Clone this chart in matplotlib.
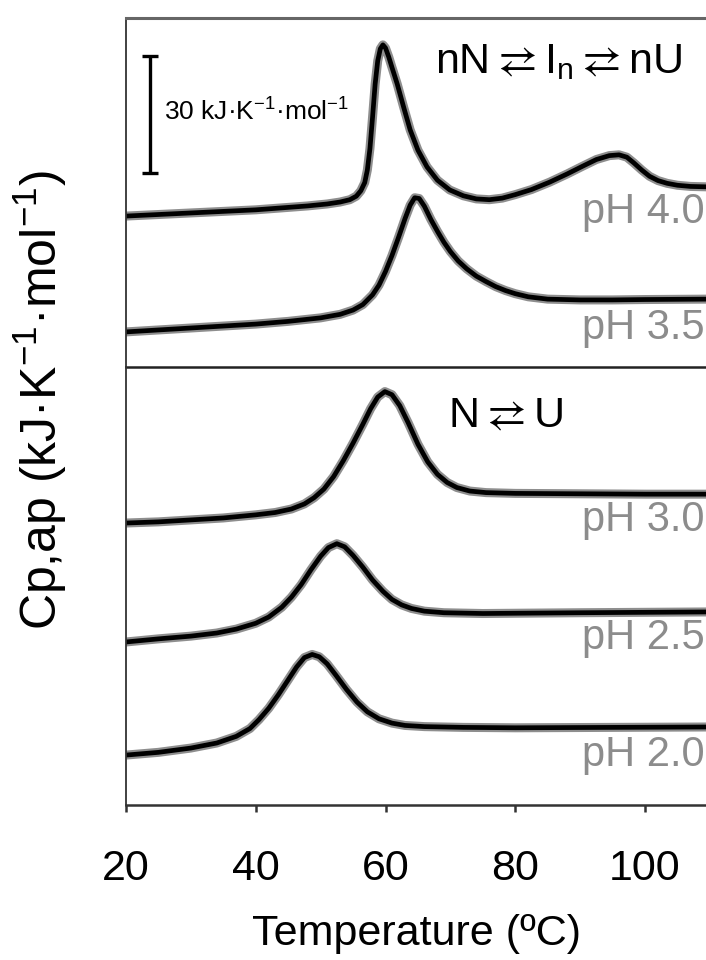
import matplotlib
matplotlib.use("Agg")
import matplotlib.pyplot as plt

plt.rcParams['font.family'] = ['Liberation Sans', 'DejaVu Sans']
plt.rcParams['mathtext.fontset'] = 'custom'
plt.rcParams['mathtext.rm'] = 'Liberation Sans'
plt.rcParams['mathtext.it'] = 'Liberation Sans:italic'
plt.rcParams['mathtext.bf'] = 'Liberation Sans:bold'
plt.rcParams['mathtext.fallback'] = 'stixsans'

# Cp,ap curves (kJ/K/mol), already stacked with their offsets
# top panel: nN <-> In <-> nU
T_40 = [20, 25, 30, 35, 40, 44, 48, 51, 53, 54.5, 55.5, 56.2, 56.8, 57.2, 57.6, 58, 58.4,
        58.8, 59.2, 59.6, 60.0, 60.5, 61, 61.8, 62.8, 63.8, 65, 66.4, 68, 69.9, 72, 74, 76,
        78, 80, 82.5, 85.3, 88, 90.4, 92.5, 94.5, 96, 97.2, 98.3, 99.5, 100.7, 102, 103.4,
        105, 107, 109.4]
cp_40 = [38.7, 39.1, 39.5, 39.9, 40.3, 40.8, 41.3, 41.8, 42.3, 42.9, 43.8, 45.2, 47.3, 50.5,
         56.0, 64.0, 72.5, 78.5, 81.6, 82.6, 81.8, 79.5, 76.8, 72.6, 66.6, 60.8, 55.6, 51.3,
         47.9, 45.4, 43.9, 43.1, 42.9, 43.3, 44.2, 45.5, 47.4, 49.5, 51.5, 53.2, 54.2, 54.4,
         53.8, 52.3, 50.5, 48.9, 47.8, 47.1, 46.6, 46.3, 46.2]

T_35 = [20, 25, 30, 35, 40, 45, 50, 53, 55, 56.5, 58, 59, 60, 61, 62, 63, 63.8, 64.5, 65.2,
        66, 67, 68, 69, 70, 71.2, 72.5, 74, 75.5, 77, 78.5, 80, 82, 85, 90, 95, 100, 109.4]
cp_35 = [9.0, 9.5, 10.0, 10.5, 11.0, 11.7, 12.6, 13.5, 14.6, 16.0, 18.5, 21.0, 24.5, 28.6,
         33.2, 38.0, 41.5, 43.4, 43.2, 41.2, 37.8, 34.8, 32.0, 29.6, 27.2, 25.2, 23.3, 21.9,
         20.6, 19.6, 18.8, 18.0, 17.4, 17.2, 17.2, 17.3, 17.4]

# bottom panel: N <-> U
T_30 = [20, 25, 30, 35, 40, 43, 45.5, 47.5, 49, 50.5, 52, 53.5, 55, 56.5, 57.7, 58.8, 59.9,
        61, 62.2, 63.5, 65, 66.5, 68, 69.5, 71, 73, 75.5, 80, 90, 100, 109.4]
cp_30 = [72.3, 72.6, 73.1, 73.6, 74.4, 75.0, 75.9, 77.2, 78.8, 81.0, 84.2, 88.3, 92.8, 97.6,
         101.6, 104.6, 106.0, 105.2, 102.4, 98.0, 92.5, 88.0, 84.8, 82.7, 81.4, 80.5, 80.1,
         79.9, 79.8, 79.7, 79.7]

T_25 = [20, 25, 30, 34, 37, 40, 42, 44, 45.5, 47, 48.5, 50, 51.2, 52.5, 53.7, 55, 56.5, 58,
        59.6, 61, 62.5, 64, 66, 69, 75, 90, 109.4]
cp_25 = [41.8, 42.6, 43.3, 44.1, 45.1, 46.6, 48.2, 50.7, 53.3, 56.5, 60.3, 63.8, 66.0, 67.0,
         66.2, 64.0, 61.0, 57.7, 54.8, 52.7, 51.3, 50.4, 49.7, 49.3, 49.1, 49.3, 49.5]

T_20 = [20, 25, 30, 34, 37, 39.1, 40.5, 42, 43.5, 45, 46.3, 47.5, 48.7, 49.8, 51, 52.3, 54,
        55.6, 57.2, 59, 61, 63, 66, 72, 80, 95, 109.4]
cp_20 = [12.8, 13.5, 14.6, 15.9, 17.6, 19.6, 21.9, 24.8, 28.3, 32.1, 35.4, 37.8, 38.6, 38.0,
         36.2, 33.4, 29.6, 26.4, 23.9, 22.1, 21.0, 20.4, 20.1, 19.9, 19.8, 19.9, 20.0]

top_curves = [(T_40, cp_40, 'pH 4.0', 39.7), (T_35, cp_35, 'pH 3.5', 10.0)]
bot_curves = [(T_30, cp_30, 'pH 3.0', 73.1), (T_25, cp_25, 'pH 2.5', 42.8),
              (T_20, cp_20, 'pH 2.0', 12.8)]
xticks = [20, 40, 60, 80, 100]

fig = plt.figure(figsize=(7.06, 9.6), dpi=100)
ax1 = fig.add_axes([126/706, 1-367/960, 1-126/706, 349/960])
ax2 = fig.add_axes([126/706, 1-805/960, 1-126/706, 438/960], sharex=ax1)
ax2.patch.set_visible(False)

for ax, curves in [(ax1, top_curves), (ax2, bot_curves)]:
    for T, cp, lab, ylab in curves:
        ax.plot(T, cp, color='#8e8e8e', lw=6.5, solid_joinstyle='round', solid_capstyle='round')
        ax.plot(T, cp, color='black', lw=3.4, solid_joinstyle='round')
        ax.text(0.997, ylab, lab, color='#8c8c8c', fontsize=30, va='center', ha='right',
                transform=ax.get_yaxis_transform())
    ax.spines['right'].set_visible(False)
    ax.set_yticks([])
    ax.spines['left'].set_color('#333333')
    ax.spines['left'].set_linewidth(1.3)

ax1.set_xlim(20, 109.4)
ax1.set_ylim(0, 349/3.9)
ax2.set_ylim(0, 438/3.9)

ax1.spines['top'].set_color('#666666')
ax1.spines['top'].set_linewidth(2.2)
ax1.spines['bottom'].set_color('#222222')
ax1.spines['bottom'].set_linewidth(1.8)
ax2.spines['top'].set_visible(False)
ax2.spines['bottom'].set_color('#333333')
ax2.spines['bottom'].set_linewidth(1.8)
ax1.tick_params(axis='x', bottom=False, labelbottom=False)

ax2.set_xticks(xticks)
ax2.tick_params(axis='x', direction='out', length=5, width=1.8, color='#333333',
                labelsize=31, pad=27)
ax2.set_xlabel('Temperature (ºC)', fontsize=31, labelpad=18)

# scale bar
ax1.errorbar([23.7], [64.7], yerr=[15], color='black', lw=2.4, capsize=6, capthick=2.4)
ax1.text(25.8, 65.5, r'30 kJ·K$^{\mathregular{-1}}$·mol$^{\mathregular{-1}}$', fontsize=19,
         va='center', ha='left')

ax1.text(67.6, 75.4, r'nN$\rightleftarrows$I$_{\mathregular{n}}$$\rightleftarrows$nU',
         fontsize=31, va='baseline', ha='left')
ax2.text(69.6, 96.7, r'N$\rightleftarrows$U', fontsize=31, va='baseline', ha='left')

fig.text(40/706, 1-400/960, r'Cp,ap (kJ·K$^{\mathregular{-1}}$·mol$^{\mathregular{-1}}$)',
         fontsize=36, rotation=90, va='center', ha='center')

fig.savefig('out.png', dpi=100)
